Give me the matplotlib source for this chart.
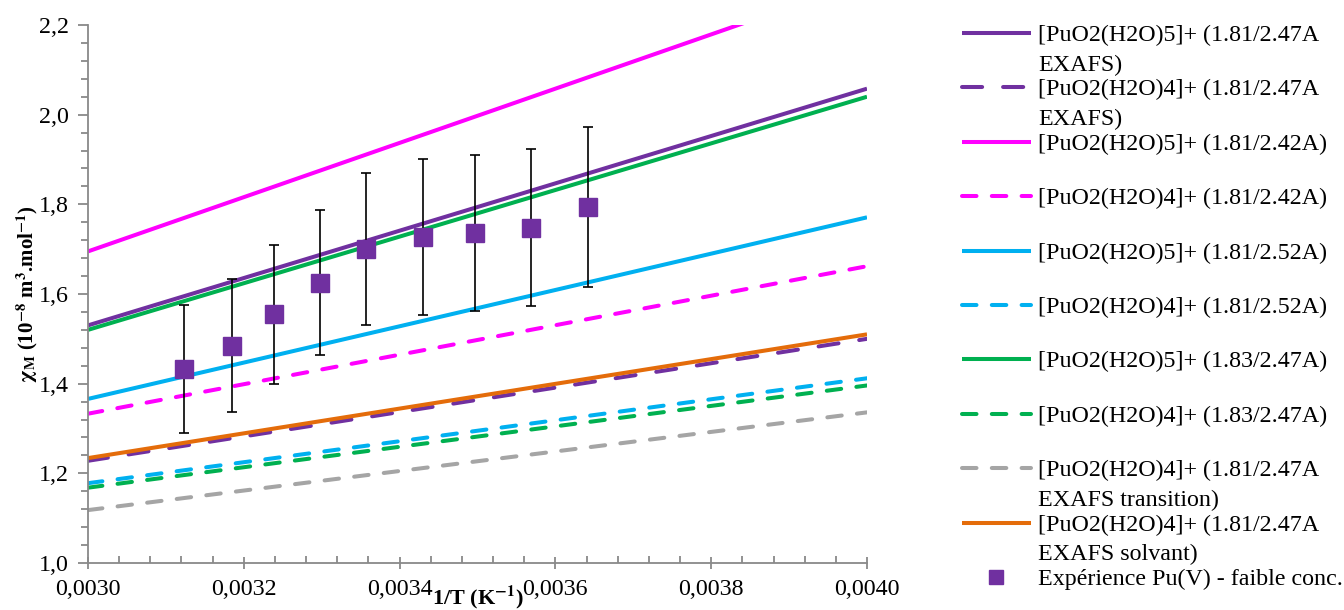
import numpy as np
import matplotlib.pyplot as plt
from matplotlib.ticker import MultipleLocator, FuncFormatter

plt.rcParams['font.family'] = ['Liberation Serif', 'DejaVu Serif']
plt.rcParams['mathtext.fontset'] = 'stix'

# model lines: value at 1/T = 0.0030 and at 1/T = 0.0040
x_ends = [0.0030, 0.0040]
labels = [
    "[PuO2(H2O)5]+ (1.81/2.47A\nEXAFS)",
    "[PuO2(H2O)4]+ (1.81/2.47A\nEXAFS)",
    "[PuO2(H2O)5]+ (1.81/2.42A)",
    "[PuO2(H2O)4]+ (1.81/2.42A)",
    "[PuO2(H2O)5]+ (1.81/2.52A)",
    "[PuO2(H2O)4]+ (1.81/2.52A)",
    "[PuO2(H2O)5]+ (1.83/2.47A)",
    "[PuO2(H2O)4]+ (1.83/2.47A)",
    "[PuO2(H2O)4]+ (1.81/2.47A\nEXAFS transition)",
    "[PuO2(H2O)4]+ (1.81/2.47A\nEXAFS solvant)",
]
y_start = [1.530, 1.228, 1.695, 1.333, 1.366, 1.178, 1.520, 1.168, 1.118, 1.234]
y_end = [2.058, 1.500, 2.300, 1.662, 1.771, 1.412, 2.040, 1.396, 1.336, 1.510]
colors = ["#7030A0", "#7030A0", "#FF00FF", "#FF00FF", "#00B0F0", "#00B0F0",
          "#00B050", "#00B050", "#A5A5A5", "#E46C0A"]
styles = ["solid", "lgdash", "solid", "dash", "solid", "dash",
          "solid", "dash", "dash", "solid"]

# experiment
exp_label = "Expérience Pu(V) - faible conc."
exp_x = [0.003123, 0.003185, 0.003239, 0.003298, 0.003357, 0.003430, 0.003497, 0.003569, 0.003642]
exp_y = [1.432, 1.485, 1.555, 1.625, 1.700, 1.727, 1.736, 1.748, 1.794]
exp_err = [0.143, 0.148, 0.155, 0.162, 0.170, 0.173, 0.174, 0.175, 0.179]

dash_patterns = {"solid": None, "dash": (3.6, 3.8), "lgdash": (5.0, 5.2)}
LW = 2.9
FS = 17.3

fig = plt.figure(figsize=(13.44, 6.10), dpi=100)
ax = fig.add_axes([88 / 1344, 47 / 610, 779 / 1344, 538 / 610])


def draw_line(a, xs, ys, color, style):
    kw = dict(color=color, lw=LW, solid_capstyle='butt')
    if dash_patterns[style] is not None:
        kw.update(dashes=dash_patterns[style], dash_capstyle='round')
    a.plot(xs, ys, **kw)


for ys, ye, c, s in zip(y_start, y_end, colors, styles):
    draw_line(ax, x_ends, [ys, ye], c, s)

ax.errorbar(exp_x, exp_y, yerr=exp_err, fmt='s', color='#7030A0', ms=12.5,
            ecolor='black', elinewidth=1.2, capsize=3.6, capthick=1.2, zorder=5)

ax.set_xlim(0.0030, 0.0040)
ax.set_ylim(1.0, 2.2)
ax.xaxis.set_major_locator(MultipleLocator(0.0002))
ax.xaxis.set_minor_locator(MultipleLocator(0.00004))
ax.yaxis.set_major_locator(MultipleLocator(0.2))
ax.yaxis.set_minor_locator(MultipleLocator(0.04))
ax.xaxis.set_major_formatter(FuncFormatter(lambda v, p: f"{v:.4f}".replace('.', ',')))
ax.yaxis.set_major_formatter(FuncFormatter(lambda v, p: f"{v:.1f}".replace('.', ',')))

axis_color = '#898989'
for side in ['top', 'right']:
    ax.spines[side].set_visible(False)
for side in ['left', 'bottom']:
    ax.spines[side].set_color(axis_color)
    ax.spines[side].set_linewidth(1.3)
ax.tick_params(axis='x', which='major', direction='inout', length=9, width=1.3,
               color=axis_color, labelsize=FS, pad=7)
ax.tick_params(axis='x', which='minor', direction='in', length=5, width=1.3, color=axis_color)
ax.tick_params(axis='y', which='major', direction='out', length=7, width=1.3,
               color=axis_color, labelsize=FS, pad=7)
ax.tick_params(axis='y', which='minor', direction='out', length=5, width=1.3, color=axis_color)

ax.set_xlabel(r"1/T (K$^{\mathbf{-1}}$)", fontsize=16, fontweight='bold', labelpad=-12)
ax.set_ylabel(r"$\mathbf{\chi}_{\mathbf{M}}$ (10$^{\mathbf{-8}}$ m$^{\mathbf{3}}$.mol$^{\mathbf{-1}}$)",
              fontsize=15, fontweight='bold', labelpad=-1)

# legend drawn by hand so the handle sits next to the first text line
lg = fig.add_axes([0, 0, 1, 1], frameon=False)
lg.set_xlim(0, 1344)
lg.set_ylim(610, 0)
lg.set_axis_off()
y0, step, line_gap = 33, 54.4, 29.5
for i, (lab, c, s) in enumerate(zip(labels, colors, styles)):
    y = y0 + i * step
    draw_line(lg, [962, 1031], [y, y], c, s)
    for k, part in enumerate(lab.split("\n")):
        lg.text(1038, y + k * line_gap, part, fontsize=FS, va='center_baseline', ha='left')
y = y0 + len(labels) * step
lg.plot([996], [y], 's', color='#7030A0', ms=10)
lg.text(1038, y, exp_label, fontsize=FS, va='center_baseline', ha='left')

fig.savefig("out.png", dpi=100)
